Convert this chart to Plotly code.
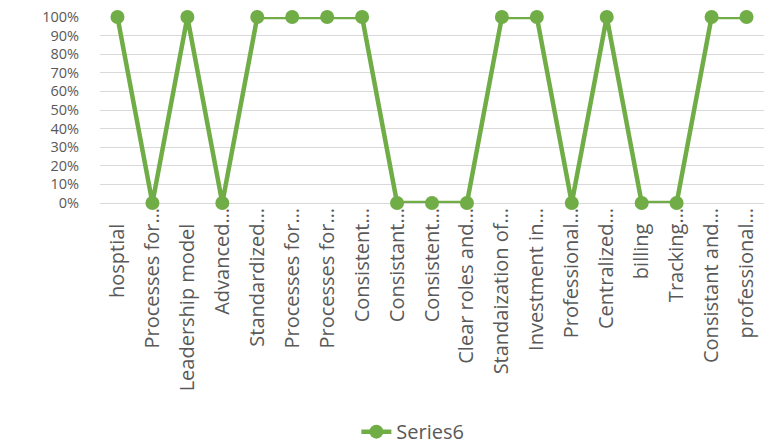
import plotly.graph_objects as go

NBSP = "\u00a0"

categories = [
    "hosptial" + NBSP * 3, "Processes for…", "Leadership model" + NBSP * 3, "Advanced…",
    "Standardized…", "Processes for…", "Processes for…", "Consistent…", "Consistant…",
    "Consistent…", "Clear roles and…", "Standaization of…", "Investment in…",
    "Professional…", "Centralized…", "billing" + NBSP * 3, "Tracking…",
    "Consistant and…", "professional…",
]
series6 = [1, 0, 1, 0, 1, 1, 1, 1, 0, 0, 0, 1, 1, 0, 1, 0, 0, 1, 1]

positions = list(range(len(categories)))
green = "#70AD47"
grey_text = "#595959"
font_family = "Open Sans, Lato, sans-serif"

fig = go.Figure()
fig.add_trace(go.Scatter(
    x=positions,
    y=series6,
    mode="lines+markers",
    name="Series6",
    line=dict(color=green, width=4.5),
    marker=dict(color=green, size=14),
    cliponaxis=False,
))

fig.update_layout(
    width=779,
    height=445,
    margin=dict(l=100, r=15, t=17, b=242),
    paper_bgcolor="white",
    plot_bgcolor="white",
    font=dict(family=font_family, color=grey_text, size=17),
    showlegend=True,
    legend=dict(
        orientation="h",
        xref="container", yref="container",
        x=0.53, xanchor="center",
        y=0.03, yanchor="middle",
        font=dict(size=20, color=grey_text),
    ),
    xaxis=dict(
        range=[-0.5, len(categories) - 0.5],
        tickmode="array",
        tickvals=positions,
        ticktext=categories,
        tickangle=-90,
        showgrid=False,
        zeroline=False,
        showline=False,
        ticks="",
        automargin=False,
        tickfont=dict(size=20, color=grey_text),
    ),
    yaxis=dict(
        range=[0, 1],
        dtick=0.1,
        tickformat=".0%",
        showgrid=True,
        gridcolor="#D9D9D9",
        gridwidth=1,
        zeroline=True,
        zerolinecolor="#D9D9D9",
        zerolinewidth=1,
        showline=False,
        ticks="",
        automargin=False,
        ticklabelstandoff=20,
        tickfont=dict(size=14.5, color=grey_text),
    ),
)

fig.write_html("out.html")
